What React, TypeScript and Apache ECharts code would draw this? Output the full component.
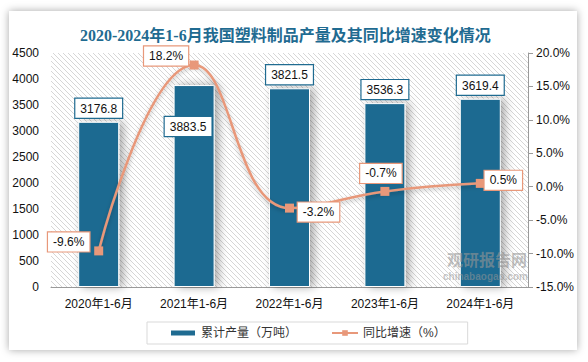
import React, { useEffect, useRef } from "react";
import * as echarts from "echarts";

const categories = ["2020年1-6月", "2021年1-6月", "2022年1-6月", "2023年1-6月", "2024年1-6月"];
const production = [3176.8, 3883.5, 3821.5, 3536.3, 3619.4];
const growth = [-9.6, 18.2, -3.2, -0.7, 0.5];
const leftTicks = { min: 0, max: 4500, interval: 500 };
const rightTicks = { min: -15, max: 20, interval: 5 };

// label placement styles (not data)
const barLabelStyles: any[] = [
  { position: "top", distance: 4 },
  { position: "insideTop", distance: 32, offset: [-6, 0] },
  { position: "top", distance: 4 },
  { position: "top", distance: 4 },
  { position: "top", distance: 4 },
];
const lineLabelOffsets: number[][] = [
  [-30, -9],
  [-28, -9],
  [29, 4],
  [-4, -18],
  [23, -3],
];

function makePattern() {
  const c = document.createElement("canvas");
  c.width = 5;
  c.height = 5;
  const ctx = c.getContext("2d")!;
  ctx.fillStyle = "#ffffff";
  ctx.fillRect(0, 0, 5, 5);
  ctx.strokeStyle = "#d6d6d6";
  ctx.lineWidth = 1;
  ctx.beginPath();
  ctx.moveTo(-1, -1);
  ctx.lineTo(6, 6);
  ctx.moveTo(-1, 4);
  ctx.lineTo(1, 6);
  ctx.moveTo(4, -1);
  ctx.lineTo(6, 1);
  ctx.stroke();
  return c;
}

export default function App() {
  const ref = useRef<HTMLDivElement>(null);
  useEffect(() => {
    if (!ref.current) return;
    const chart = echarts.init(ref.current, null, { renderer: "svg" });
    const font = "'Liberation Sans', 'Noto Sans CJK SC', sans-serif";
    const barColor = "#1f6b91";
    const lineColor = "#e8987a";
    chart.setOption({
      animation: false,
      textStyle: { fontFamily: font },
      title: {
        text: "2020-2024年1-6月我国塑料制品产量及其同比增速变化情况",
        left: 75,
        top: 22,
        textStyle: {
          fontFamily: "'Liberation Serif', 'Noto Sans CJK SC', serif",
          fontSize: 16,
          fontWeight: "bold",
          color: "#1f6b91",
        },
      },
      grid: {
        left: 51,
        right: 60,
        top: 53,
        bottom: 75,
        show: true,
        borderWidth: 0,
        backgroundColor: { image: makePattern(), repeat: "repeat" },
      },
      legend: {
        left: 147,
        top: 322,
        padding: [5, 22, 5, 22],
        borderColor: "#d9d9d9",
        borderWidth: 1,
        itemGap: 34,
        itemWidth: 26,
        itemHeight: 7,
        textStyle: { fontSize: 12, color: "#333", fontFamily: font },
        data: [
          { name: "累计产量（万吨）", icon: "rect" },
          { name: "同比增速（%）" },
        ],
      },
      xAxis: {
        type: "category",
        data: categories,
        axisLine: { lineStyle: { color: "#9a9a9a", width: 1 } },
        axisTick: { show: false },
        axisLabel: { color: "#111", fontSize: 12, margin: 11 },
      },
      yAxis: [
        {
          type: "value",
          min: leftTicks.min,
          max: leftTicks.max,
          interval: leftTicks.interval,
          axisLine: { show: false },
          axisTick: { show: false },
          splitLine: { show: false },
          axisLabel: { color: "#111", fontSize: 12, margin: 12, formatter: (v: number) => String(v) },
        },
        {
          type: "value",
          min: rightTicks.min,
          max: rightTicks.max,
          interval: rightTicks.interval,
          position: "right",
          axisLine: { show: true, lineStyle: { color: "#9a9a9a" } },
          axisTick: { show: true, length: 5, lineStyle: { color: "#9a9a9a" } },
          splitLine: { show: false },
          axisLabel: {
            color: "#111",
            fontSize: 12,
            margin: 8,
            formatter: (v: number) => v.toFixed(1) + "%",
          },
        },
      ],
      series: [
        {
          name: "累计产量（万吨）",
          type: "bar",
          barWidth: 41,
          yAxisIndex: 0,
          itemStyle: {
            color: barColor,
            borderColor: "#ffffff",
            borderWidth: 1,
            shadowBlur: 10,
            shadowOffsetX: 4,
            shadowColor: "rgba(0,0,0,0.35)",
          },
          data: production.map((v, i) => ({
            value: v,
            label: {
              show: true,
              ...barLabelStyles[i],
              color: "#111",
              fontSize: 12,
              backgroundColor: "#ffffff",
              borderColor: barColor,
              borderWidth: 1.2,
              padding: [4, 5, 3, 5],
              formatter: (p: any) => p.value.toFixed(1),
            },
          })),
        },
        {
          name: "同比增速（%）",
          type: "line",
          yAxisIndex: 1,
          smooth: 0.45,
          symbol: "rect",
          symbolSize: 9,
          color: lineColor,
          lineStyle: {
            color: lineColor,
            width: 2.5,
            shadowBlur: 4,
            shadowOffsetY: 2,
            shadowColor: "rgba(0,0,0,0.25)",
          },
          itemStyle: { color: lineColor },
          z: 5,
          data: growth.map((v, i) => ({
            value: v,
            label: {
              show: true,
              position: "inside",
              offset: lineLabelOffsets[i],
              color: "#111",
              fontSize: 12,
              backgroundColor: "#ffffff",
              borderColor: lineColor,
              borderWidth: 1.2,
              padding: [4, 5, 3, 5],
              formatter: (p: any) => p.value.toFixed(1) + "%",
            },
          })),
        },
      ],
      graphic: [
        {
          type: "text",
          left: 447,
          top: 251,
          z: 20,
          style: {
            text: "观研报告网",
            font: "bold 16px 'Noto Sans CJK SC'",
            fill: "rgba(150,150,150,0.6)",
          },
        },
        {
          type: "text",
          left: 443,
          top: 271,
          z: 20,
          style: {
            text: "chinabaogao.com",
            font: "bold 10px 'Liberation Sans'",
            fill: "rgba(150,150,150,0.55)",
          },
        },
      ],
    });
    return () => chart.dispose();
  }, []);

  return (
    <div style={{ position: "fixed", left: 0, top: 0, width: 588, height: 362, background: "#ffffff" }}>
      <div
        style={{
          position: "absolute",
          left: 9,
          top: 11,
          width: 568,
          height: 339,
          background: "#ffffff",
          boxShadow: "0 0 8px rgba(0,0,0,0.35)",
        }}
      />
      <div ref={ref} style={{ position: "absolute", left: 0, top: 0, width: 588, height: 362 }} />
    </div>
  );
}
